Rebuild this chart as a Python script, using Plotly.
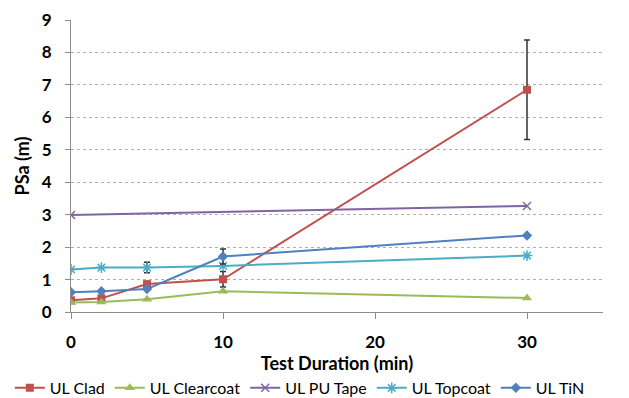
import plotly.graph_objects as go

# Data
clad_x = [0, 2, 5, 10, 30]
clad_y = [0.36, 0.42, 0.86, 1.01, 6.85]
clad_err = [0, 0, 0, 0.24, 1.53]

clear_x = [0, 2, 5, 10, 30]
clear_y = [0.29, 0.31, 0.39, 0.64, 0.43]

pu_x = [0, 30]
pu_y = [2.99, 3.27]

top_x = [0, 2, 5, 10, 30]
top_y = [1.31, 1.37, 1.37, 1.42, 1.74]
top_err = [0, 0, 0.16, 0, 0]

tin_x = [0, 2, 5, 10, 30]
tin_y = [0.61, 0.64, 0.71, 1.71, 2.36]
tin_err = [0, 0, 0, 0.23, 0]

x_ticks = [0, 10, 20, 30]
y_ticks = list(range(0, 10))

FONT = "Lato"

def err(arr):
    return dict(type="data", array=arr, visible=True, color="#333333",
                thickness=1.5, width=3)

fig = go.Figure()
fig.add_trace(go.Scatter(x=clad_x, y=clad_y, name="UL Clad", mode="lines+markers",
                         line=dict(color="#C0504D", width=2),
                         marker=dict(symbol="square", size=8, color="#C0504D"),
                         error_y=err(clad_err)))
fig.add_trace(go.Scatter(x=clear_x, y=clear_y, name="UL Clearcoat", mode="lines+markers",
                         line=dict(color="#9BBB59", width=2),
                         marker=dict(symbol="triangle-up", size=9, color="#9BBB59")))
fig.add_trace(go.Scatter(x=pu_x, y=pu_y, name="UL PU Tape", mode="lines+markers",
                         line=dict(color="#8064A2", width=2),
                         marker=dict(symbol="x-thin", size=8,
                                     line=dict(color="#8064A2", width=1.5))))
fig.add_trace(go.Scatter(x=top_x, y=top_y, name="UL Topcoat", mode="lines+markers",
                         line=dict(color="#4BACC6", width=2),
                         marker=dict(symbol="asterisk", size=9,
                                     line=dict(color="#4BACC6", width=1.5)),
                         error_y=err(top_err)))
fig.add_trace(go.Scatter(x=tin_x, y=tin_y, name="UL TiN", mode="lines+markers",
                         line=dict(color="#4F81BD", width=2),
                         marker=dict(symbol="diamond", size=8, color="#4F81BD"),
                         error_y=err(tin_err)))

# The page adds an 8px body margin, so the figure is sized to fit inside it.
fig.update_layout(
    width=621, height=390,
    margin=dict(l=63, r=26, t=12, b=86, autoexpand=False),
    paper_bgcolor="white", plot_bgcolor="white",
    font=dict(family=FONT, color="black"),
    showlegend=True,
    legend=dict(orientation="h", x=-0.115, xanchor="left",
                y=-0.26, yanchor="middle",
                font=dict(size=16, family=FONT, color="black"),
                itemwidth=30, tracegroupgap=0,
                bgcolor="rgba(0,0,0,0)"),
)
fig.update_xaxes(
    range=[0, 35], tickvals=x_ticks, ticktext=[str(v) for v in x_ticks],
    showline=True, linecolor="#8c8c8c", linewidth=1,
    ticks="outside", ticklen=6, tickcolor="#8c8c8c",
    showgrid=False, zeroline=False, automargin=True,
    tickfont=dict(size=17, family=FONT, color="black", weight="bold"),
    ticklabelstandoff=9,
    title=dict(text="<b>Test Duration (min)</b>", font=dict(size=18, family=FONT), standoff=0),
)
fig.update_yaxes(
    range=[0, 9], tickvals=y_ticks,
    showline=True, linecolor="#8c8c8c", linewidth=1,
    ticks="outside", ticklen=5, tickcolor="#8c8c8c",
    showgrid=True, gridcolor="#b0b0b0", griddash="dot", gridwidth=1,
    zeroline=False, automargin=True,
    tickfont=dict(size=17, family=FONT, color="black", weight="bold"),
    ticklabelstandoff=10,
    title=dict(text="<b>PSa (m)</b>", font=dict(size=18, family=FONT), standoff=7),
)

fig.write_html("out.html")
